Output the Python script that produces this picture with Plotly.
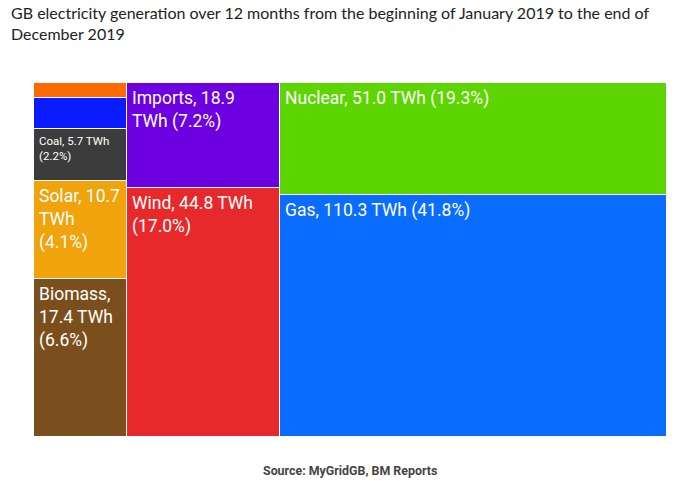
import plotly.graph_objects as go

# ---- data ----
sources = ["Other", "Hydro", "Coal", "Solar", "Biomass", "Imports", "Wind", "Nuclear", "Gas"]
twh = [1.6, 3.5, 5.7, 10.7, 17.4, 18.9, 44.8, 51.0, 110.3]
column = [0, 0, 0, 0, 0, 1, 1, 2, 2]
labels = ["", "", "Coal, 5.7 TWh<br>(2.2%)", "Solar, 10.7<br>TWh<br>(4.1%)",
          "Biomass,<br>17.4 TWh<br>(6.6%)", "Imports, 18.9<br>TWh (7.2%)",
          "Wind, 44.8 TWh<br>(17.0%)", "Nuclear, 51.0 TWh (19.3%)", "Gas, 110.3 TWh (41.8%)"]
label_sizes = [17.5, 17.5, 11.5, 17.5, 17.5, 17.5, 17.5, 17.5, 17.5]
colors = ["#ff6a00", "#0a1cff", "#3c3c3c", "#f0a30a", "#7b4f1d",
          "#6c00e0", "#e8292b", "#5cd500", "#0a6dff"]

# ---- slice-and-dice layout computed from values ----
ncol = max(column) + 1
col_tot = [sum(v for v, c in zip(twh, column) if c == k) for k in range(ncol)]
col_left = [sum(col_tot[:k]) for k in range(ncol)]
total = sum(twh)

xc, wd, base, hgt, tops, lefts = [], [], [], [], [], []
used = [0.0] * ncol
for v, c in zip(twh, column):
    h = v / col_tot[c]
    top = 1 - used[c]
    used[c] += h
    xc.append(col_left[c] + col_tot[c] / 2)
    wd.append(col_tot[c])
    base.append(top - h)
    hgt.append(h)
    tops.append(top)
    lefts.append(col_left[c])

fig = go.Figure(go.Bar(
    x=xc, y=hgt, base=base, width=wd,
    marker=dict(color=colors, line=dict(color="white", width=1)),
    hoverinfo="skip", showlegend=False,
))

for t, x0, y0, fs in zip(labels, lefts, tops, label_sizes):
    if not t:
        continue
    fig.add_annotation(x=x0, y=y0, xref="x", yref="y", text=t, showarrow=False,
                       xanchor="left", yanchor="top", align="left",
                       xshift=3, yshift=-3,
                       font=dict(family="Roboto", size=fs, color="white"))

# figure is offset by the page's 8px body margin
W, H = 672, 473
ML, MR, MT, MB = 26, 13, 75, 44
PW, PH = W - ML - MR, H - MT - MB

fig.add_annotation(x=0, y=1 + (MT - 15) / PH, xref="paper", yref="paper",
                   text="GB electricity generation over 12 months from the beginning of January 2019 to the end of<br>December 2019",
                   showarrow=False, xanchor="left", yanchor="middle", align="left",
                   xshift=-ML + 1,
                   font=dict(family="Lato", size=16, color="#222222"))
fig.add_annotation(x=(342 - ML) / PW, y=-(463 - (MT + PH)) / PH, xref="paper", yref="paper",
                   text="<b>Source: MyGridGB, BM Reports</b>",
                   showarrow=False, xanchor="center", yanchor="middle",
                   font=dict(family="Roboto", size=12.4, color="#444444"))

fig.update_layout(
    width=W, height=H,
    margin=dict(l=ML, r=MR, t=MT, b=MB, autoexpand=False),
    paper_bgcolor="white", plot_bgcolor="white",
    bargap=0,
    xaxis=dict(range=[0, total], visible=False, fixedrange=True),
    yaxis=dict(range=[0, 1], visible=False, fixedrange=True),
)
fig.write_html("out.html")
